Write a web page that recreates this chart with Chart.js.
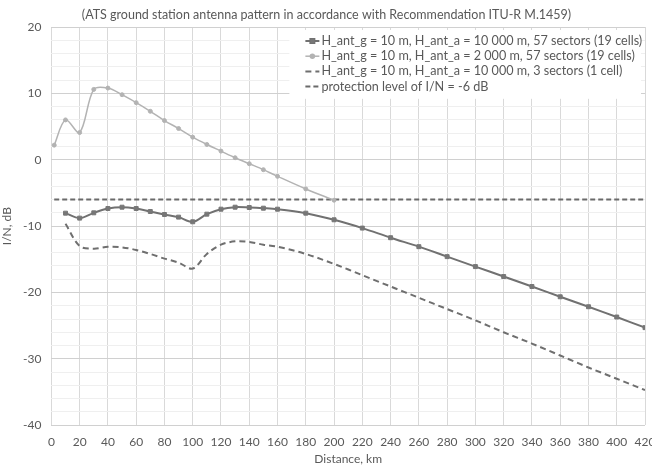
<!DOCTYPE html>
<html>
<head>
<meta charset="utf-8">
<script src="https://cdn.jsdelivr.net/npm/chart.js@4.4.1/dist/chart.umd.min.js"></script>
<style>
    html, body { margin: 0; padding: 0; background: #ffffff; }
    #wrap { width: 652px; height: 465px; }
</style>
</head>
<body>
<div id="wrap"><canvas id="antennaChart"></canvas></div>
<script>
// Distances (km) for the 10 000 m series
const distFar = [10, 20, 30, 40, 50, 60, 70, 80, 90, 100, 110, 120, 130, 140, 150, 160,
    180, 200, 220, 240, 260, 280, 300, 320, 340, 360, 380, 400, 420];
// Distances (km) for the 2 000 m series
const distNear = [2, 10, 20, 30, 40, 50, 60, 70, 80, 90, 100, 110, 120, 130, 140, 150, 160, 180, 200];
const distProtection = [2, 420];

// I/N values, dB
const in57Sectors10km = [-8.05, -8.8, -8.0, -7.35, -7.15, -7.35, -7.8, -8.25, -8.65, -9.35, -8.2, -7.45, -7.15, -7.2, -7.3, -7.45,
    -8.05, -9.05, -10.3, -11.75, -13.1, -14.6, -16.1, -17.6, -19.1, -20.65, -22.15, -23.7, -25.3];
const in57Sectors2km = [2.2, 6.0, 4.1, 10.6, 10.8, 9.8, 8.6, 7.3, 5.9, 4.7, 3.4, 2.3, 1.3, 0.3, -0.6, -1.5, -2.5, -4.4, -6.1];
const in3Sectors10km = [-9.65, -13.0, -13.4, -13.1, -13.2, -13.6, -14.2, -14.9, -15.5, -16.4, -14.2, -12.8, -12.3, -12.4, -12.8, -13.1,
    -14.2, -15.7, -17.4, -19.1, -20.8, -22.5, -24.2, -26.0, -27.7, -29.5, -31.3, -33.0, -34.7];
const protectionLevel = [-6, -6];

const seriesLabels = [
    'H_ant_g = 10 m, H_ant_a = 10 000 m, 57 sectors (19 cells)',
    'H_ant_g = 10 m, H_ant_a = 2 000 m, 57 sectors (19 cells)',
    'H_ant_g = 10 m, H_ant_a = 10 000 m, 3 sectors (1 cell)',
    'protection level of I/N = -6 dB'
];

const FONT = 'Lato, "Open Sans", sans-serif';
const TEXT_COLOR = '#595959';

function toPoints(xs, ys) {
    return xs.map((x, i) => ({ x: x, y: ys[i] }));
}

// Legend drawn inside the plot, Excel style (white box, line + marker samples)
const boxLegend = {
    id: 'boxLegend',
    afterDraw(chart) {
        const ctx = chart.ctx;
        const area = chart.chartArea;
        const left = area.left + 238;
        const top = area.top + 3;
        const width = area.right - 4 - left;
        const rowH = 15.2;

        ctx.save();
        ctx.fillStyle = '#ffffff';
        ctx.fillRect(left, top, width, rowH * 4 + 8);

        ctx.font = '12.6px ' + FONT;
        ctx.textBaseline = 'middle';
        chart.data.datasets.forEach((ds, i) => {
            const y = top + 11 + i * rowH;
            const x0 = left + 16;
            const x1 = left + 30;
            ctx.strokeStyle = ds.borderColor;
            ctx.lineWidth = ds.borderWidth;
            ctx.setLineDash(ds.borderDash || []);
            ctx.beginPath();
            ctx.moveTo(x0, y);
            ctx.lineTo(x1, y);
            ctx.stroke();
            ctx.setLineDash([]);
            if (ds.pointRadius > 0) {
                Chart.helpers.drawPoint(ctx, {
                    pointStyle: ds.pointStyle,
                    radius: ds.pointRadius,
                    rotation: 0,
                    borderWidth: 1
                }, (x0 + x1) / 2, y);
                ctx.fillStyle = ds.pointBackgroundColor;
                ctx.fill();
            }
            ctx.fillStyle = TEXT_COLOR;
            ctx.fillText(ds.label, x1 + 2, y);
        });
        ctx.restore();
    }
};

document.addEventListener('DOMContentLoaded', function() {
    const ctx = document.getElementById('antennaChart');

    new Chart(ctx, {
        type: 'line',
        data: {
            datasets: [{
                label: seriesLabels[0],
                data: toPoints(distFar, in57Sectors10km),
                borderColor: '#717171',
                backgroundColor: '#717171',
                borderWidth: 2,
                pointStyle: 'rect',
                pointRadius: 2.8,
                pointBackgroundColor: '#777777',
                pointBorderColor: '#777777',
                pointBorderWidth: 1,
                tension: 0.33
            }, {
                label: seriesLabels[1],
                data: toPoints(distNear, in57Sectors2km),
                borderColor: '#b3b3b3',
                backgroundColor: '#b3b3b3',
                borderWidth: 1.5,
                pointStyle: 'circle',
                pointRadius: 2,
                pointBackgroundColor: '#b3b3b3',
                pointBorderColor: '#b3b3b3',
                pointBorderWidth: 1,
                tension: 0.33
            }, {
                label: seriesLabels[2],
                data: toPoints(distFar, in3Sectors10km),
                borderColor: '#6f6f6f',
                backgroundColor: '#6f6f6f',
                borderWidth: 2,
                borderDash: [6, 4],
                pointRadius: 0,
                tension: 0.33
            }, {
                label: seriesLabels[3],
                data: toPoints(distProtection, protectionLevel),
                borderColor: '#6a6a6a',
                backgroundColor: '#6a6a6a',
                borderWidth: 2,
                borderDash: [5, 3],
                pointRadius: 0,
                tension: 0
            }]
        },
        options: {
            responsive: true,
            maintainAspectRatio: false,
            animation: false,
            layout: {
                padding: { left: 1, right: 0, top: 0, bottom: 0 }
            },
            plugins: {
                legend: { display: false },
                tooltip: { enabled: false },
                title: {
                    display: true,
                    text: '(ATS ground station antenna pattern in accordance with Recommendation ITU-R M.1459)',
                    color: TEXT_COLOR,
                    font: { family: FONT, size: 12.5, weight: 'normal' },
                    padding: { top: 7, bottom: 5 }
                }
            },
            scales: {
                x: {
                    type: 'linear',
                    min: 0,
                    max: 420,
                    title: {
                        display: true,
                        text: 'Distance, km',
                        color: TEXT_COLOR,
                        font: { family: FONT, size: 12 },
                        // tick padding is counted twice in the axis height, so pull the title up
                        padding: { top: -8, bottom: -1 }
                    },
                    ticks: {
                        stepSize: 20,
                        autoSkip: false,
                        maxRotation: 0,
                        color: TEXT_COLOR,
                        font: { family: FONT, size: 12 },
                        padding: 10
                    },
                    grid: {
                        color: '#d9d9d9',
                        drawTicks: false
                    },
                    border: { display: false },
                    // let the last label run off the edge like the original
                    afterFit: function(scale) {
                        scale.paddingRight = 7;
                    }
                },
                y: {
                    min: -40,
                    max: 20,
                    title: {
                        display: true,
                        text: 'I/N, dB',
                        color: TEXT_COLOR,
                        font: { family: FONT, size: 12, lineHeight: 1 },
                        padding: { top: 0, bottom: 0 }
                    },
                    ticks: {
                        stepSize: 2,
                        autoSkip: false,
                        color: TEXT_COLOR,
                        font: { family: FONT, size: 12 },
                        padding: 10,
                        callback: function(value) {
                            return value % 10 === 0 ? value : '';
                        }
                    },
                    grid: {
                        drawTicks: false,
                        color: function(c) {
                            return c.tick && c.tick.value % 10 === 0 ? '#d0d0d0' : '#efefef';
                        }
                    },
                    border: { display: false }
                }
            }
        },
        plugins: [boxLegend]
    });
});
</script>
</body>
</html>
